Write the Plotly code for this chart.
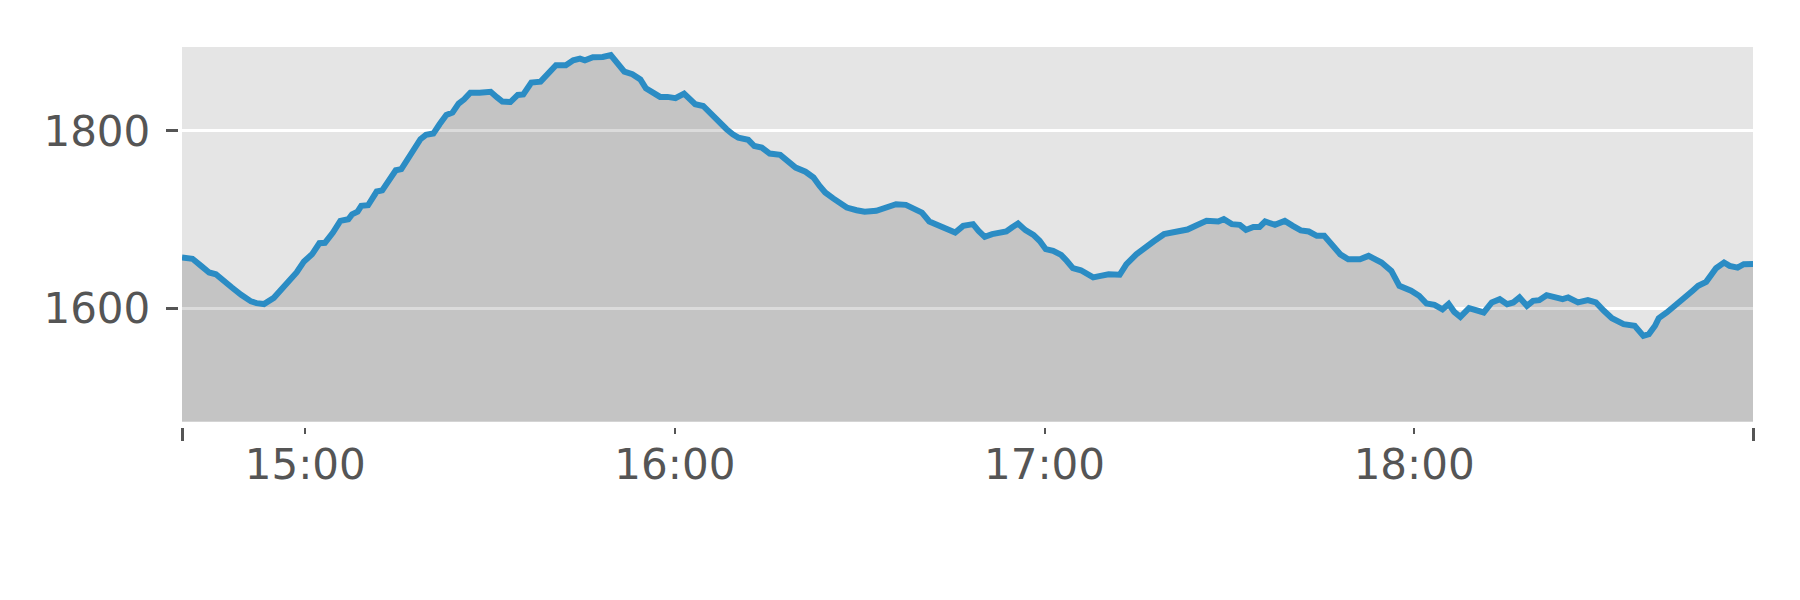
import pandas as pd
import plotly.graph_objects as go

# minutes after 14:40
minutes = [
    0.0, 1.7, 3.1, 4.4, 5.5, 6.8, 8.1, 9.6, 11.2, 12.1, 13.3, 14.9, 16.1, 17.4, 18.6, 19.8,
    21.1, 22.3, 23.2, 24.5, 25.7, 27.0, 27.6, 28.5, 29.1, 30.2, 31.6, 32.5, 33.8, 34.7, 35.6,
    36.6, 37.8, 38.7, 39.6, 40.8, 41.8, 42.9, 43.9, 44.9, 45.8, 46.8, 48.3, 50.1, 51.1, 52.0,
    53.3, 54.5, 55.4, 56.7, 58.2, 59.4, 60.7, 62.3, 63.5, 64.6, 65.4, 66.7, 68.3, 69.6, 70.5,
    71.8, 73.1, 74.4, 75.3, 76.3, 77.6, 78.8, 80.1, 81.5, 82.4, 83.3, 84.6, 85.9, 87.1, 88.4,
    89.4, 90.3, 91.9, 92.9, 94.1, 95.4, 97.1, 98.3, 99.6, 101.2, 102.5, 103.5, 104.4, 105.7,
    107.0, 107.9, 109.5, 110.8, 112.7, 114.0, 115.3, 115.9, 117.5, 118.8, 120.1, 121.3, 122.6,
    123.6, 124.5, 125.5, 126.8, 128.4, 129.3, 130.3, 131.5, 132.5, 133.8, 134.7, 135.7, 136.9,
    138.2, 139.2, 140.2, 141.4, 142.7, 143.6, 144.6, 145.9, 146.9, 147.9, 149.1, 150.4, 152.2,
    153.3, 154.9, 156.2, 157.8, 159.4, 160.6, 161.9, 163.2, 164.7, 166.3, 168.2, 169.1, 170.4,
    171.7, 172.7, 173.9, 174.9, 175.8, 177.4, 179.0, 180.3, 181.6, 182.9, 184.2, 185.4, 186.7,
    188.0, 189.3, 191.2, 192.6, 193.7, 194.7, 196.3, 197.6, 199.5, 200.8, 202.0, 203.3, 204.6,
    205.6, 206.5, 207.5, 208.9, 210.4, 211.3, 212.6, 213.9, 215.1, 216.1, 217.1, 218.3, 219.3,
    220.3, 221.5, 222.8, 224.1, 225.0, 226.6, 228.2, 229.5, 230.8, 232.1, 234.0, 235.8, 237.2,
    238.1, 239.1, 239.7, 241.0, 242.0, 242.9, 243.9, 245.2, 246.1, 247.4, 248.4, 249.0, 250.3,
    251.2, 252.5, 253.5, 255.0,
]
values = [
    1657.4, 1656.0, 1648.0, 1640.5, 1638.6, 1630.0, 1623.6, 1615.4, 1608.0, 1606.0, 1605.0,
    1612.0, 1621.8, 1630.0, 1640.5, 1653.0, 1661.0, 1673.5, 1674.0, 1685.5, 1698.7, 1700.5,
    1706.0, 1709.0, 1715.6, 1716.3, 1731.7, 1733.0, 1745.6, 1755.7, 1757.0, 1768.0, 1781.0,
    1790.6, 1795.5, 1797.0, 1807.5, 1818.0, 1820.6, 1830.7, 1835.6, 1843.0, 1843.0, 1844.0,
    1838.0, 1833.0, 1832.5, 1840.5, 1841.0, 1854.4, 1855.5, 1863.8, 1873.9, 1874.0, 1879.5,
    1881.4, 1879.5, 1883.0, 1883.3, 1885.5, 1876.9, 1866.8, 1863.8, 1858.0, 1848.0, 1844.3,
    1838.3, 1838.3, 1836.8, 1842.0, 1835.6, 1830.0, 1828.1, 1818.7, 1810.5, 1801.9, 1796.2,
    1792.5, 1790.0, 1783.0, 1781.2, 1774.5, 1773.0, 1765.5, 1758.7, 1754.0, 1747.5, 1738.0,
    1730.6, 1724.0, 1717.4, 1713.7, 1710.7, 1709.0, 1710.0, 1713.0, 1714.4, 1717.4, 1716.7,
    1711.8, 1708.0, 1698.0, 1694.2, 1690.4, 1689.3, 1685.5, 1693.0, 1695.0, 1687.4, 1680.7,
    1683.7, 1685.5, 1686.7, 1691.2, 1695.7, 1688.2, 1683.0, 1676.2, 1666.8, 1664.9, 1660.4,
    1653.7, 1645.4, 1643.1, 1638.6, 1635.0, 1636.8, 1638.6, 1638.0, 1650.0, 1661.0, 1668.7,
    1676.0, 1683.7, 1685.5, 1688.0, 1688.9, 1693.8, 1698.7, 1697.9, 1700.6, 1695.0, 1694.2,
    1688.5, 1691.9, 1691.9, 1698.0, 1694.2, 1698.7, 1693.0, 1688.0, 1686.7, 1681.8, 1681.8,
    1672.4, 1661.0, 1655.5, 1655.5, 1659.3, 1655.5, 1651.8, 1642.4, 1625.5, 1620.0, 1614.3,
    1605.6, 1604.1, 1599.0, 1605.0, 1596.2, 1590.6, 1600.4, 1598.1, 1595.5, 1606.8, 1610.5,
    1604.9, 1606.8, 1612.4, 1603.0, 1608.6, 1609.4, 1615.0, 1613.1, 1610.5, 1612.4, 1606.8,
    1609.4, 1606.8, 1597.4, 1589.0, 1582.4, 1580.5, 1569.2, 1571.1, 1580.5, 1589.1, 1595.5,
    1601.0, 1604.9, 1612.4, 1620.0, 1625.5, 1630.0, 1638.6, 1645.4, 1651.8, 1648.0, 1646.0,
    1649.9, 1650.0,
]
start_time = "2024-01-01 14:40:00"
end_time = "2024-01-01 18:55:00"
hour_ticks = ["2024-01-01 15:00", "2024-01-01 16:00", "2024-01-01 17:00", "2024-01-01 18:00"]
hour_labels = ["15:00", "16:00", "17:00", "18:00"]
y_ticks = [1600, 1800]
y_range = [1472.5, 1894.5]

times = pd.Timestamp(start_time) + pd.to_timedelta(minutes, unit="m")

TXT = "#555555"
FONT = "DejaVu Sans"

fig = go.Figure()
fig.add_trace(go.Scatter(
    x=times, y=values, mode="lines",
    line=dict(color="#2B8CC4", width=6),
    fill="tozeroy", fillcolor="rgba(0,0,0,0.14)",
    showlegend=False, hoverinfo="skip",
))

# page has an 8px body margin, so the figure is 16px smaller than the window
W, H = 1784, 584
ml, mr, mt, mb = 160, 39, 39, 160
pw = W - ml - mr
ph = H - mt - mb


def px_x(x):
    return (x - ml) / pw


def px_y(y):
    return (H - mb - y) / ph


fig.update_layout(
    width=W, height=H,
    margin=dict(l=ml, r=mr, t=mt, b=mb, autoexpand=False),
    paper_bgcolor="white", plot_bgcolor="#E5E5E5",
    font=dict(family=FONT, size=42, color=TXT),
    xaxis=dict(
        type="date",
        domain=[px_x(174), 1],
        anchor="free", position=px_y(418.7),
        range=[start_time, end_time],
        tickmode="array", tickvals=hour_ticks, ticktext=hour_labels,
        ticks="outside", ticklen=6, tickwidth=2, tickcolor=TXT,
        ticklabelstandoff=-5,
        tickfont=dict(family=FONT, size=42, color=TXT),
        showgrid=False, zeroline=False, showline=False,
        minor=dict(tickmode="array", tickvals=[start_time, end_time],
                   ticks="outside", ticklen=13, tickwidth=3, tickcolor=TXT,
                   showgrid=False),
    ),
    yaxis=dict(
        domain=[px_y(413.7), 1],
        anchor="free", position=px_x(169.7),
        range=y_range,
        tickmode="array", tickvals=y_ticks,
        ticks="outside", ticklen=12, tickwidth=3, tickcolor=TXT,
        ticklabelstandoff=7,
        tickfont=dict(family=FONT, size=42, color=TXT),
        showgrid=True, gridcolor="white", gridwidth=2.7,
        zeroline=False, showline=False,
    ),
)

fig.write_html("out.html")
